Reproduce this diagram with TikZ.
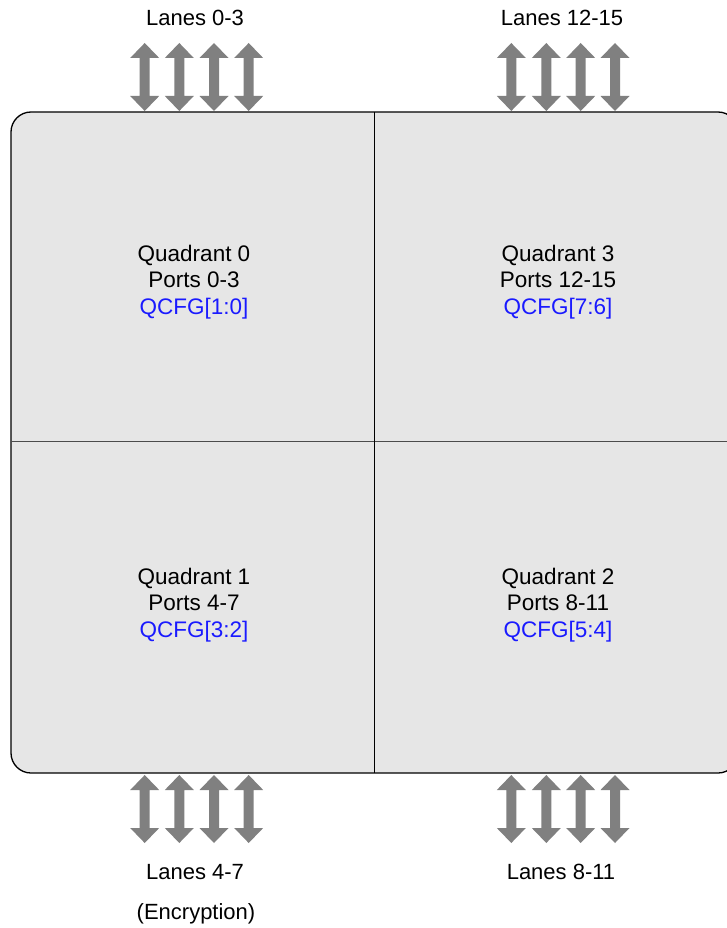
\documentclass[tikz,border=0pt]{standalone}
\usepackage{fontspec}
\setmainfont{Liberation Sans}
\usetikzlibrary{positioning}
\definecolor{quadfill}{HTML}{E6E6E6}
\definecolor{lanegray}{HTML}{808080}
\definecolor{cfgblue}{HTML}{1A1AFF}

\begin{document}
\begin{tikzpicture}[x=1pt,y=-1pt,
  quadtext/.style={align=center,font=\fontsize{22.5}{26.5}\selectfont},
  lanetext/.style={font=\fontsize{22}{26}\selectfont},
  lanearrow/.style={fill=lanegray,draw=none}]
\useasboundingbox (0,0) rectangle (726,928);
% outer block
\draw[rounded corners=20pt,fill=quadfill,line width=1.3pt] (11,112) rectangle (738,773);
\draw[black!70,line width=1pt] (11,441)--(738,441);
\draw[line width=0.9pt] (374,112)--(374,773);
% quadrant labels
\node[quadtext] (q0) at (194,282) {Quadrant 0\\Ports 0-3\\\textcolor{cfgblue}{QCFG[1:0]}};
\node[quadtext] (q3) at (558,282) {Quadrant 3\\Ports 12-15\\\textcolor{cfgblue}{QCFG[7:6]}};
\node[quadtext] (q1) at (194,605) {Quadrant 1\\Ports 4-7\\\textcolor{cfgblue}{QCFG[3:2]}};
\node[quadtext] (q2) at (558,605) {Quadrant 2\\Ports 8-11\\\textcolor{cfgblue}{QCFG[5:4]}};
% lane arrows
\foreach \x in {144.7,179.3,214,248.7,511.3,546.3,580.7,615}
  \foreach \y in {43,775}
    \fill[lanearrow] (\x,\y) -- ++(14.5,15) -- ++(-9.5,0) -- ++(0,38) -- ++(9.5,0) -- ++(-14.5,15)
      -- ++(-14.5,-15) -- ++(9.5,0) -- ++(0,-38) -- ++(-9.5,0) -- cycle;
% lane labels
\node[lanetext] (l03) at (195,18) {Lanes 0-3};
\node[lanetext] (l1215) at (562,18) {Lanes 12-15};
\node[lanetext] (l47) at (195,872) {Lanes 4-7};
\node[lanetext] (enc) at (196,914) {(Encryption)};
\node[lanetext] (l811) at (561,872) {Lanes 8-11};
\end{tikzpicture}
\end{document}
